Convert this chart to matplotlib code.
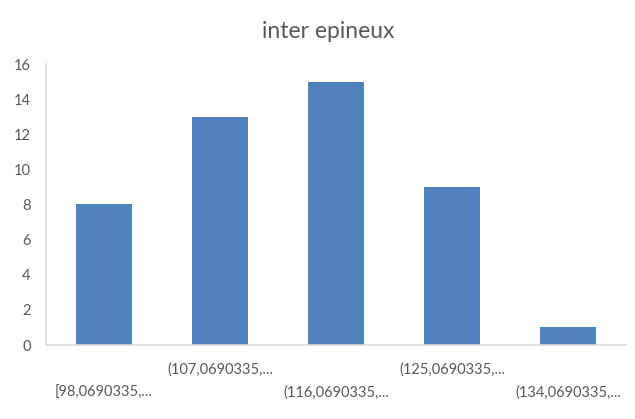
import numpy as np
import matplotlib.pyplot as plt
import matplotlib.transforms as mtransforms

# Data ############################################################
categories = ["[98,0690335,...", "(107,0690335,...", "(116,0690335,...",
              "(125,0690335,...", "(134,0690335,..."]
counts = [8, 13, 15, 9, 1]
y_ticks = [0, 2, 4, 6, 8, 10, 12, 14, 16]

# Plot ############################################################
plt.rcParams['font.family'] = ['Lato', 'DejaVu Sans']
text_col = "#595959"
axis_col = "#D9D9D9"

fig = plt.figure(figsize=(6.35, 4.19), dpi=100)
ax = fig.add_axes([46/635, 1 - 345/419, 580/635, 281/419])

x = np.arange(len(categories))
ax.bar(x, counts, width=0.49, color="#4F81BD", zorder=2)

ax.set_xlim(-0.5, len(categories) - 0.5)
ax.set_ylim(0, 16)
ax.set_yticks(y_ticks)
ax.set_yticklabels([str(v) for v in y_ticks], fontsize=10.5, color=text_col)
ax.tick_params(axis='y', length=0, pad=11)
ax.set_xticks([])

for s in ["top", "right"]:
    ax.spines[s].set_visible(False)
for s in ["left", "bottom"]:
    ax.spines[s].set_color(axis_col)
    ax.spines[s].set_linewidth(1.2)

# staggered category labels like excel does
trans = mtransforms.blended_transform_factory(ax.transData, fig.transFigure)
for i, lab in enumerate(categories):
    ypix = 393 if i % 2 == 0 else 370
    ax.text(i, 1 - ypix/419, lab, transform=trans, ha="center", va="center",
            fontsize=10.5, color=text_col)

fig.text(0.517, 1 - 32/419, "inter epineux", ha="center", va="center",
         fontsize=16.5, color=text_col)

fig.savefig("out.png", dpi=100)
